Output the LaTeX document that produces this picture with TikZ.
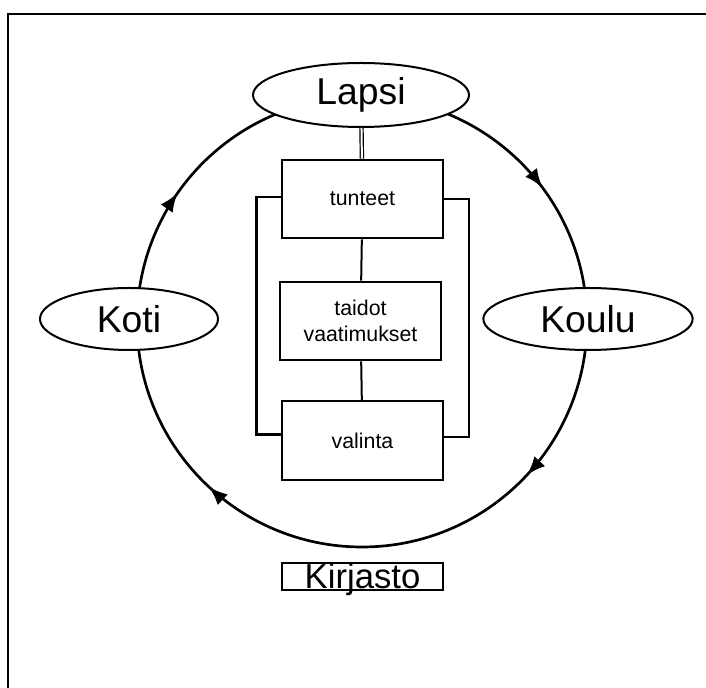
\documentclass[tikz,border=0pt]{standalone}
\usepackage{fontspec}
\setmainfont{Liberation Sans}
\usetikzlibrary{shapes.geometric,arrows.meta,decorations.markings}

\tikzset{
  place/.style={ellipse,draw,fill=white,line width=1.5pt,inner sep=0pt,
    font=\fontsize{28}{30}\selectfont},
  infobox/.style={rectangle,draw,fill=white,line width=1.5pt,
    minimum width=121pt,minimum height=59pt,align=center,
    font=\fontsize{16}{19}\selectfont},
  flowtip/.tip={Latex[length=14pt,width=11pt]},
  flow/.style={line width=2pt,postaction={decorate},decoration={markings,
    mark=at position 0.102 with {\arrowreversed{flowtip}},
    mark=at position 0.403 with {\arrowreversed{flowtip}},
    mark=at position 0.631 with {\arrowreversed{flowtip}},
    mark=at position 0.881 with {\arrowreversed{flowtip}}}}
}

\begin{document}
\begin{tikzpicture}[x=0.75pt,y=0.75pt]
\useasboundingbox (0,0) rectangle (706,688);
% frame (top and left edge only)
\draw[line width=1.6pt] (8,0) -- (8,674) -- (706,674);

% the cycle round the child
\coordinate (mid) at (362,366);
\draw[flow] (mid) circle[radius=225];

\node[place,minimum width=162pt,minimum height=48pt] (lapsi) at (361,593) {Lapsi};
\node[place,minimum width=133.5pt,minimum height=46.5pt] (koti) at (129,369) {Koti};
\node[place,minimum width=157pt,minimum height=46.5pt] (koulu) at (588,369) {Koulu};

\node[infobox] (tunteet) at (362.5,489) {tunteet};
\node[infobox] (taidot) at (360.5,367) {taidot\\vaatimukset};
\node[infobox] (valinta) at (362.5,247.5) {valinta};

\node[draw,line width=1.5pt,minimum width=121pt,text height=18pt,text depth=0pt,
  inner ysep=1pt,font=\fontsize{26}{26}\selectfont] (kirjasto) at (362.5,111.5) {Kirjasto};

% links between the boxes
\draw[double,double distance=1.5pt,line width=0.9pt] (lapsi) -- (tunteet);
\draw[line width=1.5pt] (tunteet) -- (taidot);
\draw[line width=1.5pt] (taidot) -- (valinta);
\draw[line width=2.2pt] ([yshift=1.5pt]tunteet.west) -- ++(-24,0) |- ([yshift=4.5pt]valinta.west);
\draw[line width=1.6pt] (tunteet.east) -- ++(25,0) |- ([yshift=2.5pt]valinta.east);
\end{tikzpicture}
\end{document}
